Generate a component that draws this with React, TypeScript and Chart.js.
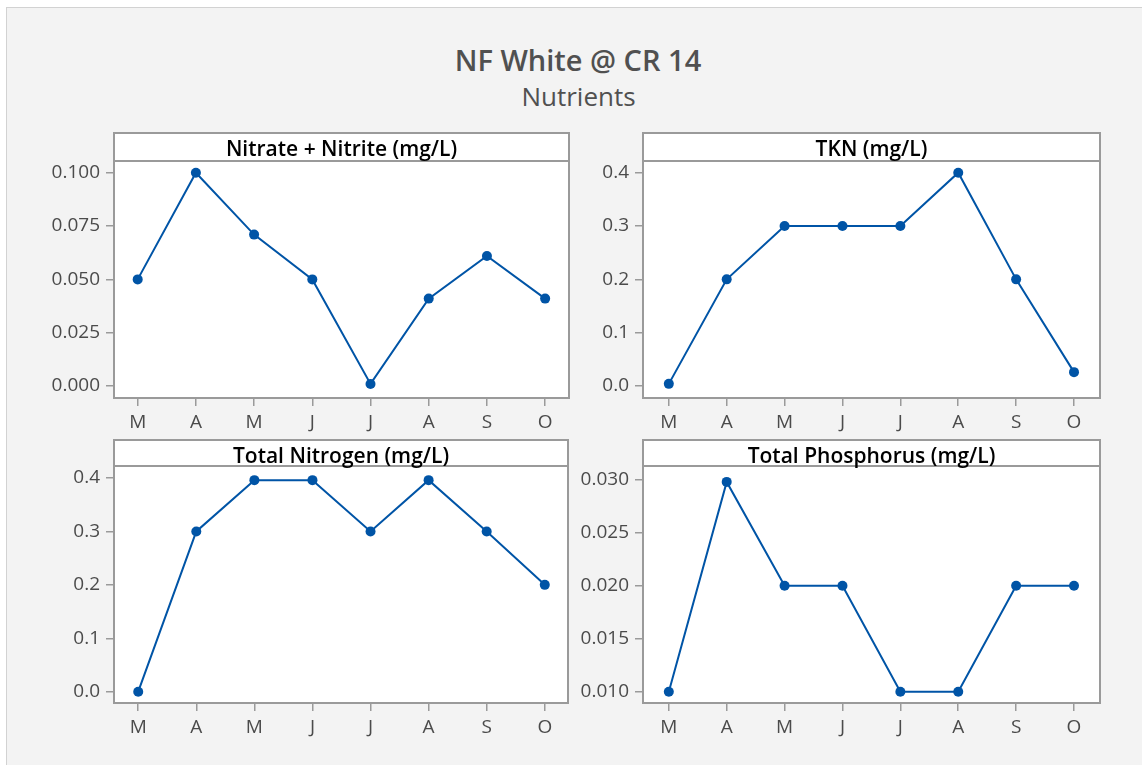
import React, { useEffect, useRef } from "react";
import { Chart, registerables } from "chart.js";

Chart.register(...registerables);

// ---------- data ----------
const months = ["M", "A", "M", "J", "J", "A", "S", "O"];

const nitrateNitrite = [0.05, 0.1, 0.071, 0.05, 0.001, 0.041, 0.061, 0.041];
const tkn = [0.004, 0.2, 0.3, 0.3, 0.3, 0.4, 0.2, 0.026];
const totalNitrogen = [0.0, 0.3, 0.396, 0.396, 0.3, 0.396, 0.3, 0.2];
const totalPhosphorus = [0.01, 0.0298, 0.02, 0.02, 0.01, 0.01, 0.02, 0.02];

const nitrateTicks = [0.0, 0.025, 0.05, 0.075, 0.1];
const tknTicks = [0.0, 0.1, 0.2, 0.3, 0.4];
const totalNitrogenTicks = [0.0, 0.1, 0.2, 0.3, 0.4];
const totalPhosphorusTicks = [0.01, 0.015, 0.02, 0.025, 0.03];

const chartTitle = "NF White @ CR 14";
const chartSubtitle = "Nutrients";

// ---------- styles ----------
const FONT = "'Open Sans', 'Noto Sans', sans-serif";
const BLUE = "#0054a6";
const AXIS_GRAY = "#9a9a9a";
const TEXT_GRAY = "#4b4b4b";

type Panel = {
  title: string;
  values: number[];
  ticks: number[];
  decimals: number;
  yMin: number;
  yMax: number;
  xMin: number;
  xMax: number;
  areaLeft: number;
  areaRight: number;
  areaTop: number;
  areaBottom: number;
  headerH: number;
  textOffset: number;
};

const panels: Panel[] = [
  {
    title: "Nitrate + Nitrite (mg/L)",
    values: nitrateNitrite,
    ticks: nitrateTicks,
    decimals: 3,
    yMin: -0.0056,
    yMax: 0.1055,
    xMin: -0.407,
    xMax: 7.41,
    areaLeft: 114,
    areaRight: 569,
    areaTop: 161,
    areaBottom: 398,
    headerH: 28,
    textOffset: 5,
  },
  {
    title: "TKN (mg/L)",
    values: tkn,
    ticks: tknTicks,
    decimals: 1,
    yMin: -0.0225,
    yMax: 0.422,
    xMin: -0.446,
    xMax: 7.449,
    areaLeft: 643,
    areaRight: 1100,
    areaTop: 161,
    areaBottom: 398,
    headerH: 28,
    textOffset: 5,
  },
  {
    title: "Total Nitrogen (mg/L)",
    values: totalNitrogen,
    ticks: totalNitrogenTicks,
    decimals: 1,
    yMin: -0.0212,
    yMax: 0.4225,
    xMin: -0.417,
    xMax: 7.4,
    areaLeft: 114,
    areaRight: 568,
    areaTop: 466,
    areaBottom: 703,
    headerH: 26,
    textOffset: 3.5,
  },
  {
    title: "Total Phosphorus (mg/L)",
    values: totalPhosphorus,
    ticks: totalPhosphorusTicks,
    decimals: 3,
    yMin: 0.00893,
    yMax: 0.0313,
    xMin: -0.446,
    xMax: 7.449,
    areaLeft: 643,
    areaRight: 1100,
    areaTop: 466,
    areaBottom: 703,
    headerH: 26,
    textOffset: 3.5,
  },
];

const panelBoxPlugin = {
  id: "panelBox",
  beforeDraw(chart: any, _args: any, opts: any) {
    const { ctx, chartArea: a } = chart;
    ctx.save();
    ctx.fillStyle = "#ffffff";
    ctx.fillRect(a.left, a.top - opts.headerH, a.right - a.left, a.bottom - a.top + opts.headerH);
    ctx.restore();
  },
  afterDraw(chart: any, _args: any, opts: any) {
    const { ctx, chartArea: a } = chart;
    ctx.save();
    ctx.strokeStyle = AXIS_GRAY;
    ctx.lineWidth = 2;
    ctx.strokeRect(a.left, a.top - opts.headerH, a.right - a.left, a.bottom - a.top + opts.headerH);
    ctx.beginPath();
    ctx.moveTo(a.left, a.top);
    ctx.lineTo(a.right, a.top);
    ctx.stroke();
    ctx.fillStyle = "#000000";
    ctx.font = `600 21px ${FONT}`;
    ctx.textAlign = "center";
    ctx.textBaseline = "alphabetic";
    ctx.fillText(opts.title, (a.left + a.right) / 2, a.top - opts.textOffset);
    ctx.restore();
  },
};

function PanelChart({ p }: { p: Panel }) {
  const ref = useRef<HTMLCanvasElement | null>(null);
  const canvasLeft = p.areaLeft - 114;
  const canvasTop = p.areaTop - 60;
  const canvasWidth = p.areaRight - canvasLeft + 12;
  const canvasHeight = p.areaBottom - canvasTop + 42;

  useEffect(() => {
    if (!ref.current) return;
    const chart = new Chart(ref.current, {
      type: "line",
      data: {
        datasets: [
          {
            data: p.values.map((v, i) => ({ x: i, y: v })),
            borderColor: BLUE,
            backgroundColor: BLUE,
            borderWidth: 2,
            pointRadius: 5,
            pointBackgroundColor: BLUE,
            pointBorderWidth: 0,
            tension: 0,
          },
        ],
      },
      options: {
        animation: false,
        responsive: false,
        events: [],
        layout: { padding: { top: 60, right: 12, left: 0, bottom: 0 } },
        plugins: {
          legend: { display: false },
          tooltip: { enabled: false },
          panelBox: { title: p.title, headerH: p.headerH, textOffset: p.textOffset },
        } as any,
        scales: {
          x: {
            type: "linear",
            min: p.xMin,
            max: p.xMax,
            afterBuildTicks: (s: any) => {
              s.ticks = months.map((_, i) => ({ value: i }));
            },
            afterFit: (s: any) => {
              s.height = 42;
            },
            ticks: {
              callback: (v: any) => months[Math.round(Number(v))],
              font: { family: FONT, size: 19 },
              color: TEXT_GRAY,
              padding: 5,
              autoSkip: false,
              maxRotation: 0,
            },
            grid: { drawOnChartArea: false, tickLength: 8, color: AXIS_GRAY, lineWidth: 1.5 },
            border: { display: false },
          },
          y: {
            type: "linear",
            min: p.yMin,
            max: p.yMax,
            afterBuildTicks: (s: any) => {
              s.ticks = p.ticks.map((v) => ({ value: v }));
            },
            afterFit: (s: any) => {
              s.width = 114;
            },
            ticks: {
              callback: (v: any) => Number(v).toFixed(p.decimals),
              font: { family: FONT, size: 19 },
              color: TEXT_GRAY,
              padding: 6,
              autoSkip: false,
            },
            grid: { drawOnChartArea: false, tickLength: 8, color: AXIS_GRAY, lineWidth: 1.5 },
            border: { display: false },
          },
        },
      } as any,
      plugins: [panelBoxPlugin as any],
    });
    return () => chart.destroy();
  }, [p]);

  return (
    <canvas
      ref={ref}
      width={canvasWidth}
      height={canvasHeight}
      style={{ position: "absolute", left: canvasLeft, top: canvasTop, width: canvasWidth, height: canvasHeight }}
    />
  );
}

export default function App() {
  return (
    <div
      style={{
        position: "absolute",
        left: 0,
        top: 0,
        width: 1142,
        height: 765,
        background: "#ffffff",
        overflow: "hidden",
        fontFamily: FONT,
      }}
    >
      <div
        style={{
          position: "absolute",
          left: 6,
          top: 7,
          width: 1150,
          height: 770,
          background: "#f3f3f3",
          borderTop: "1px solid #d2d2d2",
          borderLeft: "1px solid #d2d2d2",
        }}
      />
      <div
        style={{
          position: "absolute",
          left: 0,
          width: 1156,
          top: 45,
          textAlign: "center",
          fontSize: 29,
          lineHeight: "29px",
          fontWeight: 600,
          color: "#505050",
          whiteSpace: "nowrap",
        }}
      >
        {chartTitle}
      </div>
      <div
        style={{
          position: "absolute",
          left: 0,
          width: 1157,
          top: 83,
          textAlign: "center",
          fontSize: 26,
          lineHeight: "26px",
          fontWeight: 400,
          color: "#505050",
          whiteSpace: "nowrap",
        }}
      >
        {chartSubtitle}
      </div>
      {panels.map((p, i) => (
        <PanelChart key={i} p={p} />
      ))}
    </div>
  );
}
